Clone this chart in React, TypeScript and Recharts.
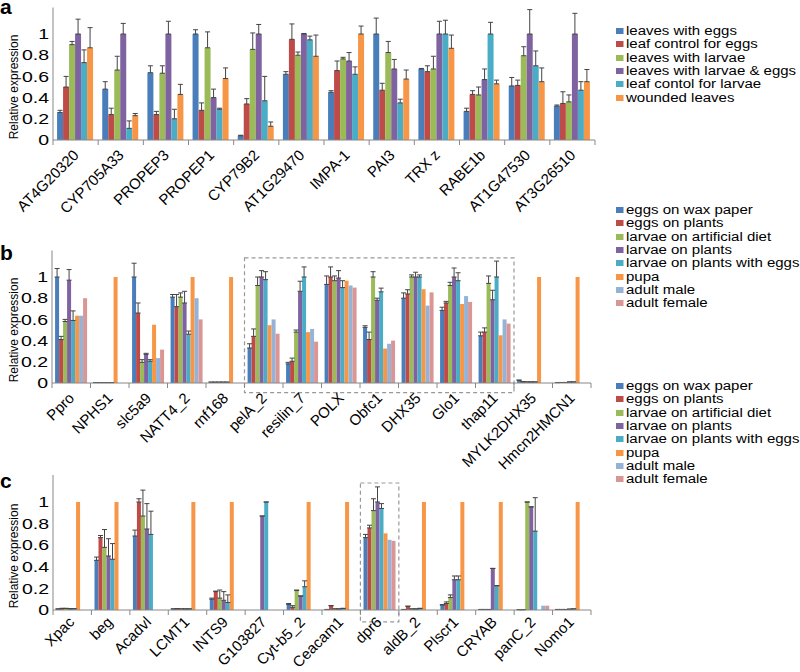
import React from "react";
import {
    BarChart,
    Bar,
    XAxis,
    YAxis,
    ErrorBar,
    ReferenceArea,
} from "recharts";

// ---- panel a: plant genes ----
const genesA = [
    "AT4G20320", "CYP705A33", "PROPEP3", "PROPEP1", "CYP79B2", "AT1G29470",
    "IMPA-1", "PAI3", "TRX z", "RABE1b", "AT1G47530", "AT3G26510",
];
const leavesEggs = [0.26, 0.48, 0.635, 1.0, 0.04, 0.62, 0.45, 1.0, 0.67, 0.27, 0.51, 0.32];
const leavesEggsErr = [0.02, 0.07, 0.065, 0.04, 0.005, 0.025, 0.015, 0.15, 0.005, 0.03, 0.08, 0.01];
const ctrlEggs = [0.5, 0.24, 0.24, 0.28, 0.34, 0.95, 0.655, 0.47, 0.645, 0.43, 0.515, 0.345];
const ctrlEggsErr = [0.1, 0.06, 0.03, 0.07, 0.05, 0.145, 0.09, 0.065, 0.055, 0.035, 0.05, 0.11];
const leavesLarvae = [0.9, 0.66, 0.63, 0.87, 0.855, 0.8, 0.765, 0.825, 0.67, 0.425, 0.795, 0.36];
const leavesLarvaeErr = [0.03, 0.13, 0.07, 0.15, 0.155, 0.03, 0.015, 0.105, 0.12, 0.075, 0.085, 0.065];
const leavesBoth = [1.0, 1.0, 1.0, 0.4, 1.0, 1.0, 0.745, 0.67, 1.0, 0.57, 1.0, 1.0];
const leavesBothErr = [0.14, 0.1, 0.12, 0.08, 0.09, 0.005, 0.08, 0.09, 0.12, 0.1, 0.23, 0.195];
const ctrlLarvae = [0.73, 0.11, 0.2, 0.29, 0.37, 0.945, 0.62, 0.35, 1.0, 1.0, 0.7, 0.47];
const ctrlLarvaeErr = [0.12, 0.07, 0.09, 0.01, 0.23, 0.035, 0.07, 0.035, 0.13, 0.11, 0.14, 0.08];
const wounded = [0.87, 0.23, 0.43, 0.58, 0.13, 0.79, 1.0, 0.575, 0.865, 0.53, 0.55, 0.55];
const woundedErr = [0.19, 0.02, 0.095, 0.1, 0.04, 0.2, 0.075, 0.085, 0.125, 0.035, 0.13, 0.115];

// ---- panel b: insect genes ----
const genesB = [
    "Ppro", "NPHS1", "slc5a9", "NATT4_2", "rnf168", "pelA_2", "resilin_7",
    "POLX", "Obfc1", "DHX35", "Glo1", "thap11", "MYLK2DHX35", "Hmcn2HMCN1",
];
const bWax = [1.0, 0.004, 1.0, 0.81, 0.008, 0.33, 0.18, 0.93, 0.525, 0.8, 0.685, 0.445, 0.025, 0.004];
const bWaxErr = [0.08, 0, 0.13, 0.025, 0, 0.04, 0.015, 0.08, 0.015, 0.05, 0.03, 0.035, 0.003, 0];
const bEggPlant = [0.41, 0.004, 0.66, 0.72, 0.008, 0.44, 0.205, 1.0, 0.41, 0.84, 0.755, 0.48, 0.012, 0.005];
const bEggPlantErr = [0.03, 0, 0.095, 0.115, 0, 0.07, 0.03, 0.095, 0.07, 0.04, 0.015, 0.04, 0, 0];
const bDiet = [0.58, 0.004, 0.195, 0.81, 0.008, 0.92, 0.48, 0.965, 1.0, 1.0, 0.92, 0.94, 0.01, 0.005];
const bDietErr = [0.02, 0, 0.025, 0.04, 0, 0.08, 0.02, 0.045, 0.05, 0.02, 0.03, 0.07, 0, 0];
const bLarvPlant = [0.97, 0.004, 0.27, 0.755, 0.008, 1.0, 0.865, 0.99, 0.78, 1.0, 1.0, 0.785, 0.01, 0.01];
const bLarvPlantErr = [0.1, 0, 0.01, 0.11, 0, 0.06, 0.095, 0.07, 0.02, 0.045, 0.085, 0.09, 0, 0];
const bLarvEggs = [0.59, 0.004, 0.205, 0.46, 0.008, 0.975, 1.0, 0.9, 0.86, 1.0, 0.965, 1.0, 0.01, 0.01];
const bLarvEggsErr = [0.09, 0, 0.015, 0.03, 0, 0.075, 0.095, 0.065, 0.035, 0.02, 0.075, 0.15, 0, 0];
const bPupa = [0.635, 1.0, 0.55, 1.0, 1.0, 0.545, 0.48, 0.965, 0.325, 0.885, 0.745, 0.45, 1.0, 1.0];
const bMale = [0.635, 0, 0.235, 0.8, 0, 0.6, 0.51, 0.92, 0.37, 0.73, 0.82, 0.6, 0, 0];
const bFemale = [0.8, 0, 0.315, 0.6, 0, 0.465, 0.39, 0.9, 0.4, 0.855, 0.765, 0.56, 0, 0];

// ---- panel c ----
const genesC = [
    "Xpac", "beg", "Acadvl", "LCMT1", "INTS9", "G103827", "Cyt-b5_2",
    "Ceacam1", "dpr6", "aldB_2", "Plscr1", "CRYAB", "panC_2", "Nomo1",
];
const cWax = [0.01, 0.46, 0.685, 0.01, 0.1, 0, 0.05, 0.005, 0.67, 0.005, 0.045, 0.005, 0.003, 0.005];
const cWaxErr = [0, 0.03, 0.055, 0, 0.01, 0, 0.01, 0, 0.03, 0, 0.005, 0, 0, 0];
const cEggPlant = [0.015, 0.67, 1.0, 0.012, 0.17, 0, 0.025, 0.04, 0.76, 0.035, 0.06, 0.005, 0.003, 0.005];
const cEggPlantErr = [0, 0.02, 0.03, 0, 0.005, 0, 0.015, 0, 0.025, 0, 0.015, 0, 0, 0];
const cDiet = [0.015, 0.58, 0.87, 0.01, 0.11, 0, 0.18, 0.01, 0.92, 0.01, 0.115, 0.005, 1.0, 0.005];
const cDietErr = [0, 0.165, 0.24, 0, 0.075, 0, 0.005, 0, 0.11, 0, 0.025, 0, 0, 0];
const cLarvPlant = [0.012, 0.5, 0.75, 0.01, 0.09, 0.87, 0.13, 0.01, 1.0, 0.01, 0.28, 0.385, 0.955, 0.008];
const cLarvPlantErr = [0, 0.16, 0.235, 0, 0.08, 0, 0, 0, 0.14, 0, 0.035, 0, 0, 0];
const cLarvEggs = [0.012, 0.47, 0.7, 0.01, 0.07, 1.0, 0.215, 0.015, 0.94, 0.015, 0.28, 0.225, 0.73, 0.01];
const cLarvEggsErr = [0, 0.145, 0.215, 0, 0.07, 0, 0.055, 0, 0.045, 0, 0.035, 0, 0.31, 0];
const cPupa = [1.0, 1.0, 0, 1.0, 1.0, 0, 1.0, 1.0, 0.71, 1.0, 1.0, 1.0, 0, 1.0];
const cMale = [0, 0, 0, 0, 0, 0, 0, 0, 0.65, 0, 0, 0, 0.04, 0];
const cFemale = [0, 0, 0, 0, 0, 0, 0, 0, 0.64, 0, 0, 0, 0.04, 0];

const yTicks = [0, 0.2, 0.4, 0.6, 0.8, 1];

const COLORS = ["#4A7EBB", "#BE4B48", "#9BBB59", "#7F63A1", "#4BACC6", "#F79646", "#95B3D7", "#D99694"];

type Series = { name: string; values: number[]; err?: number[] };

const seriesA: Series[] = [
    { name: "leaves with eggs", values: leavesEggs, err: leavesEggsErr },
    { name: "leaf control for eggs", values: ctrlEggs, err: ctrlEggsErr },
    { name: "leaves with larvae", values: leavesLarvae, err: leavesLarvaeErr },
    { name: "leaves with larvae & eggs", values: leavesBoth, err: leavesBothErr },
    { name: "leaf contol for larvae", values: ctrlLarvae, err: ctrlLarvaeErr },
    { name: "wounded leaves", values: wounded, err: woundedErr },
];

const stageNames = [
    "eggs on wax paper", "eggs on plants", "larvae on artificial diet", "larvae on plants",
    "larvae on plants with eggs", "pupa", "adult male", "adult female",
];

const seriesB: Series[] = [
    { name: stageNames[0], values: bWax, err: bWaxErr },
    { name: stageNames[1], values: bEggPlant, err: bEggPlantErr },
    { name: stageNames[2], values: bDiet, err: bDietErr },
    { name: stageNames[3], values: bLarvPlant, err: bLarvPlantErr },
    { name: stageNames[4], values: bLarvEggs, err: bLarvEggsErr },
    { name: stageNames[5], values: bPupa },
    { name: stageNames[6], values: bMale },
    { name: stageNames[7], values: bFemale },
];

const seriesC: Series[] = [
    { name: stageNames[0], values: cWax, err: cWaxErr },
    { name: stageNames[1], values: cEggPlant, err: cEggPlantErr },
    { name: stageNames[2], values: cDiet, err: cDietErr },
    { name: stageNames[3], values: cLarvPlant, err: cLarvPlantErr },
    { name: stageNames[4], values: cLarvEggs, err: cLarvEggsErr },
    { name: stageNames[5], values: cPupa },
    { name: stageNames[6], values: cMale },
    { name: stageNames[7], values: cFemale },
];

const FONT = '"Liberation Sans", Arial, sans-serif';

const buildRows = (cats: string[], series: Series[]) =>
    cats.map((gene, i) => {
        const row: Record<string, any> = { gene };
        series.forEach((s, k) => {
            row[`s${k}`] = s.values[i];
            if (s.err) row[`e${k}`] = [0, s.err[i]];
        });
        return row;
    });

// x tick: rotated label plus Excel-style tick marks between categories
const CatTick = (props: any) => {
    const { x, y, payload, index, visibleTicksCount, dx = 4, dy = 16 } = props;
    const half = payload?.offset ?? 19;
    const tx = x + dx;
    const ty = y + dy;
    return (
        <g>
            <line x1={x - half} x2={x - half} y1={y} y2={y + 5} stroke="#888" />
            {index === visibleTicksCount - 1 && (
                <line x1={x + half} x2={x + half} y1={y} y2={y + 5} stroke="#888" />
            )}
            <text
                x={tx}
                y={ty}
                transform={`rotate(-45 ${tx} ${ty})`}
                textAnchor="end"
                fontSize={15}
                fontFamily={FONT}
                fill="#000"
            >
                {payload.value}
            </text>
        </g>
    );
};

const ValTick = (props: any) => {
    const { x, y, payload } = props;
    return (
        <text
            transform={`translate(${x - 4},${y}) scale(1.3,1)`}
            textAnchor="end"
            dominantBaseline="central"
            fontSize={15}
            fontFamily={FONT}
            fill="#000"
        >
            {payload.value}
        </text>
    );
};

const YLabel = (props: any) => {
    const vb = props.viewBox || {};
    const cx = 14;
    const cy = vb.y + vb.height * 0.6;
    return (
        <text
            x={cx}
            y={cy}
            transform={`rotate(-90 ${cx} ${cy})`}
            textAnchor="middle"
            dominantBaseline="central"
            fontSize={12}
            fontFamily={FONT}
            fill="#000"
        >
            Relative expression
        </text>
    );
};

type PanelProps = {
    cats: string[];
    series: Series[];
    width: number;
    height: number;
    margin: { top: number; right: number; left: number; bottom: number };
    yWidth: number;
    xHeight: number;
    gap: string;
    labelShift?: [number, number];
    box?: { from: string; to: string; y1: number; y2: number };
};

const Panel: React.FC<PanelProps> = ({ cats, series, width, height, margin, yWidth, xHeight, gap, labelShift = [4, 16], box }) => {
    const data = buildRows(cats, series);
    return (
        <BarChart
            width={width}
            height={height}
            data={data}
            margin={margin}
            barCategoryGap={gap}
            barGap={0}
        >
            <XAxis
                dataKey="gene"
                interval={0}
                height={xHeight}
                tick={<CatTick dx={labelShift[0]} dy={labelShift[1]} />}
                tickLine={false}
                tickSize={0}
                tickMargin={0}
                axisLine={{ stroke: "#888" }}
            />
            <YAxis
                domain={[0, 1.25]}
                ticks={yTicks}
                interval={0}
                width={yWidth}
                tick={<ValTick />}
                tickLine={false}
                tickSize={0}
                tickMargin={0}
                axisLine={{ stroke: "#888" }}
                label={<YLabel />}
            />
            {series.map((s, k) => (
                <Bar key={s.name} dataKey={`s${k}`} name={s.name} fill={COLORS[k]} isAnimationActive={false}>
                    {s.err && (
                        <ErrorBar dataKey={`e${k}`} direction="y" width={2.5} stroke="#444" strokeWidth={1} />
                    )}
                </Bar>
            ))}
            {box && (
                <ReferenceArea
                    x1={box.from}
                    x2={box.to}
                    y1={box.y1}
                    y2={box.y2}
                    ifOverflow="visible"
                    fill="none"
                    fillOpacity={0}
                    stroke="#999"
                    strokeWidth={1.2}
                    strokeDasharray="4 3"
                />
            )}
        </BarChart>
    );
};

const LegendBox: React.FC<{ series: Series[]; top: number }> = ({ series, top }) => (
    <div
        style={{
            position: "absolute",
            left: 616,
            top,
            transform: "scaleX(1.25)",
            transformOrigin: "left top",
            fontFamily: FONT,
            fontSize: 12,
            color: "#000",
        }}
    >
        {series.map((s, k) => (
            <div key={s.name} style={{ display: "flex", alignItems: "center", height: 13.35, whiteSpace: "nowrap" }}>
                <span style={{ display: "inline-block", width: 6, height: 6, background: COLORS[k], marginRight: 2 }} />
                <span>{s.name}</span>
            </div>
        ))}
    </div>
);

const letterStyle = (top: number): React.CSSProperties => ({
    position: "absolute",
    left: 0,
    top,
    fontFamily: FONT,
    fontWeight: "bold",
    fontSize: 21,
    lineHeight: "12px",
    color: "#000",
});

export default function App() {
    return (
        <div style={{ position: "absolute", left: 0, top: 0, width: 800, height: 672, background: "#fff", overflow: "hidden" }}>
            <div style={{ position: "absolute", left: 0, top: 0 }}>
                <Panel
                    cats={genesA}
                    series={seriesA}
                    width={600}
                    height={230}
                    margin={{ top: 7.5, right: 5, left: 0, bottom: 0 }}
                    yWidth={53}
                    xHeight={90}
                    gap="9%"
                />
            </div>
            <div style={{ position: "absolute", left: 0, top: 230 }}>
                <Panel
                    cats={genesB}
                    series={seriesB}
                    width={600}
                    height={245}
                    margin={{ top: 20.5, right: 9, left: 0, bottom: 0 }}
                    yWidth={52}
                    xHeight={92}
                    gap="8%"
                    box={{ from: "pelA_2", to: "thap11", y1: -0.09, y2: 1.18 }}
                />
            </div>
            <div style={{ position: "absolute", left: 0, top: 460 }}>
                <Panel
                    cats={genesC}
                    series={seriesC}
                    width={600}
                    height={212}
                    margin={{ top: 15, right: 9, left: 0, bottom: 0 }}
                    yWidth={53}
                    xHeight={62}
                    gap="8%"
                    labelShift={[3, 13]}
                    box={{ from: "dpr6", to: "dpr6", y1: -0.11, y2: 1.176 }}
                />
            </div>
            <div style={letterStyle(1)}>a</div>
            <div style={letterStyle(246.75)}>b</div>
            <div style={letterStyle(474.75)}>c</div>
            <LegendBox series={seriesA} top={24.3} />
            <LegendBox series={seriesB} top={203.3} />
            <LegendBox series={seriesC} top={379.3} />
        </div>
    );
}
